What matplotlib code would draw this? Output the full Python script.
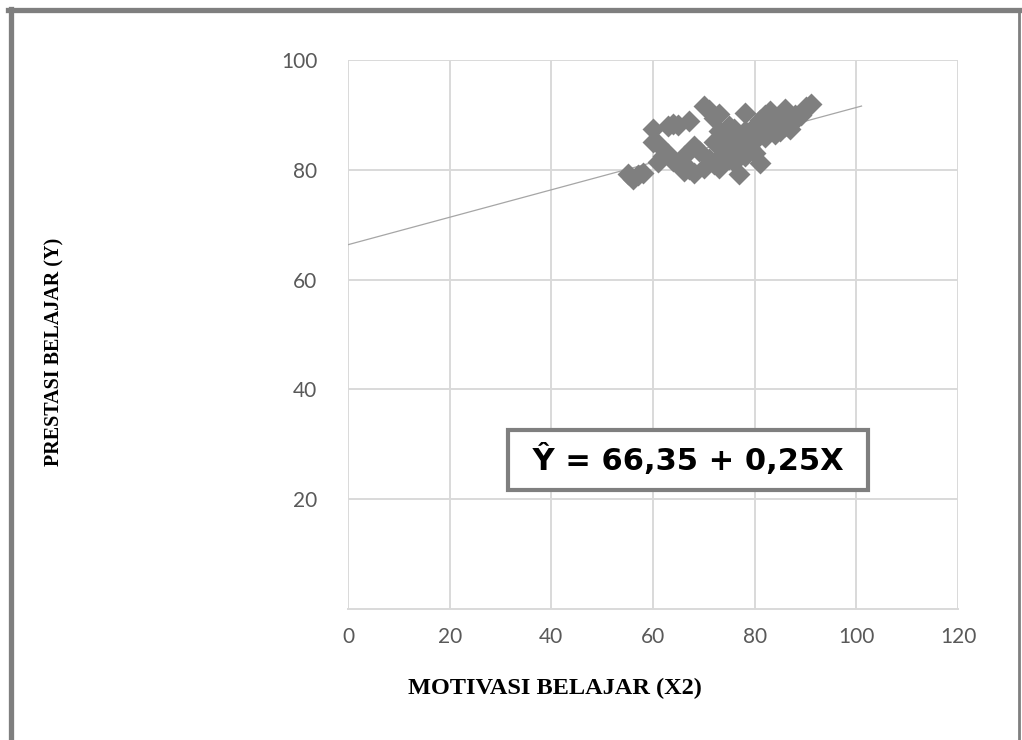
import matplotlib
matplotlib.use("Agg")
import matplotlib.pyplot as plt
from matplotlib.lines import Line2D
import numpy as np

# motivasi belajar (X2) vs prestasi belajar (Y)
motivasi = [55, 56, 57, 58, 60, 60, 61, 61, 62, 63, 63, 64, 64, 65,
            66, 66, 67, 67, 68, 68, 69, 70, 70, 71, 71, 72, 72, 72,
            73, 73, 73, 74, 74, 74, 75, 75, 75, 76, 76, 76, 77, 77,
            77, 78, 78, 78, 79, 79, 80, 80, 80, 81, 81, 81, 82, 82,
            83, 83, 84, 84, 85, 85, 86, 86, 87, 88, 88, 89, 90, 91]
prestasi = [79.2, 78.3, 79, 79.5, 87.4, 85, 84.7, 81.5, 82.5, 82.9, 88, 88.4, 81.6, 88.2,
            79.8, 82.5, 88.8, 80.2, 79.4, 84.4, 83.5, 91.6, 80.4, 90.8, 82, 85, 81, 89.5,
            90.2, 80.4, 87, 83, 86, 84.5, 82, 86, 88, 81.5, 84, 87.5, 79.3, 83,
            85.5, 90.4, 82.5, 87, 84, 86.5, 83, 85.5, 88, 81.3, 86.5, 89, 86, 90,
            88, 90.7, 86.5, 89, 87, 88.5, 88, 91, 87.5, 89, 90, 90, 91.4, 92]

# regression line  Y = 66,35 + 0,25X
a, b = 66.35, 0.25
line_x = [0, 101]

xticks = [0, 20, 40, 60, 80, 100, 120]
yticks = [20, 40, 60, 80, 100]

fig = plt.figure(figsize=(10.22, 7.4), dpi=100)
ax = fig.add_axes([0.3405, 0.177, 0.597, 0.742])

ax.scatter(motivasi, prestasi, marker="D", s=125, color="#7f7f7f",
           linewidths=0, zorder=3)
lx = np.array(line_x)
ax.plot(lx, a + b * lx, color="#a6a6a6", lw=0.9, zorder=2)

ax.set_xlim(0, 120)
ax.set_ylim(0, 100)
ax.set_xticks(xticks)
ax.set_yticks(yticks)
ax.grid(True, color="#d9d9d9", lw=1.4, zorder=0)
ax.set_axisbelow(True)
for s in ["top", "right", "left"]:
    ax.spines[s].set_visible(False)
ax.spines["bottom"].set_color("#d9d9d9")
ax.spines["bottom"].set_linewidth(1.4)
ax.tick_params(length=0, labelsize=15, labelcolor="#595959")
ax.tick_params(axis="y", pad=22)
ax.tick_params(axis="x", pad=13)
for lab in ax.get_xticklabels() + ax.get_yticklabels():
    lab.set_fontfamily("Lato")

ax.text(0.557, 0.271, " Ŷ = 66,35 + 0,25X ", transform=ax.transAxes,
        ha="center", va="center", fontsize=22, fontweight="bold",
        family="DejaVu Sans", color="black",
        bbox=dict(boxstyle="square,pad=0.45", fc="white", ec="#7f7f7f", lw=3))

fig.text(0.543, 0.070, "MOTIVASI BELAJAR (X2)", ha="center", va="center",
         fontsize=17.5, fontweight="bold", family="Liberation Serif")
fig.text(0.053, 0.525, "PRESTASI BELAJAR (Y)", ha="center", va="center",
         rotation=90, fontsize=14.5, fontweight="bold", family="Liberation Serif")

# page frame
fig.add_artist(Line2D([0.0103, 0.0103], [0.0, 0.9885], color="#7f7f7f", lw=3.8))
fig.add_artist(Line2D([0.0078, 0.9985], [0.9865, 0.9865], color="#7f7f7f", lw=3.8))
fig.add_artist(Line2D([0.9975, 0.9975], [0.0, 0.9885], color="#7f7f7f", lw=2))

fig.savefig("out.png", dpi=100)
